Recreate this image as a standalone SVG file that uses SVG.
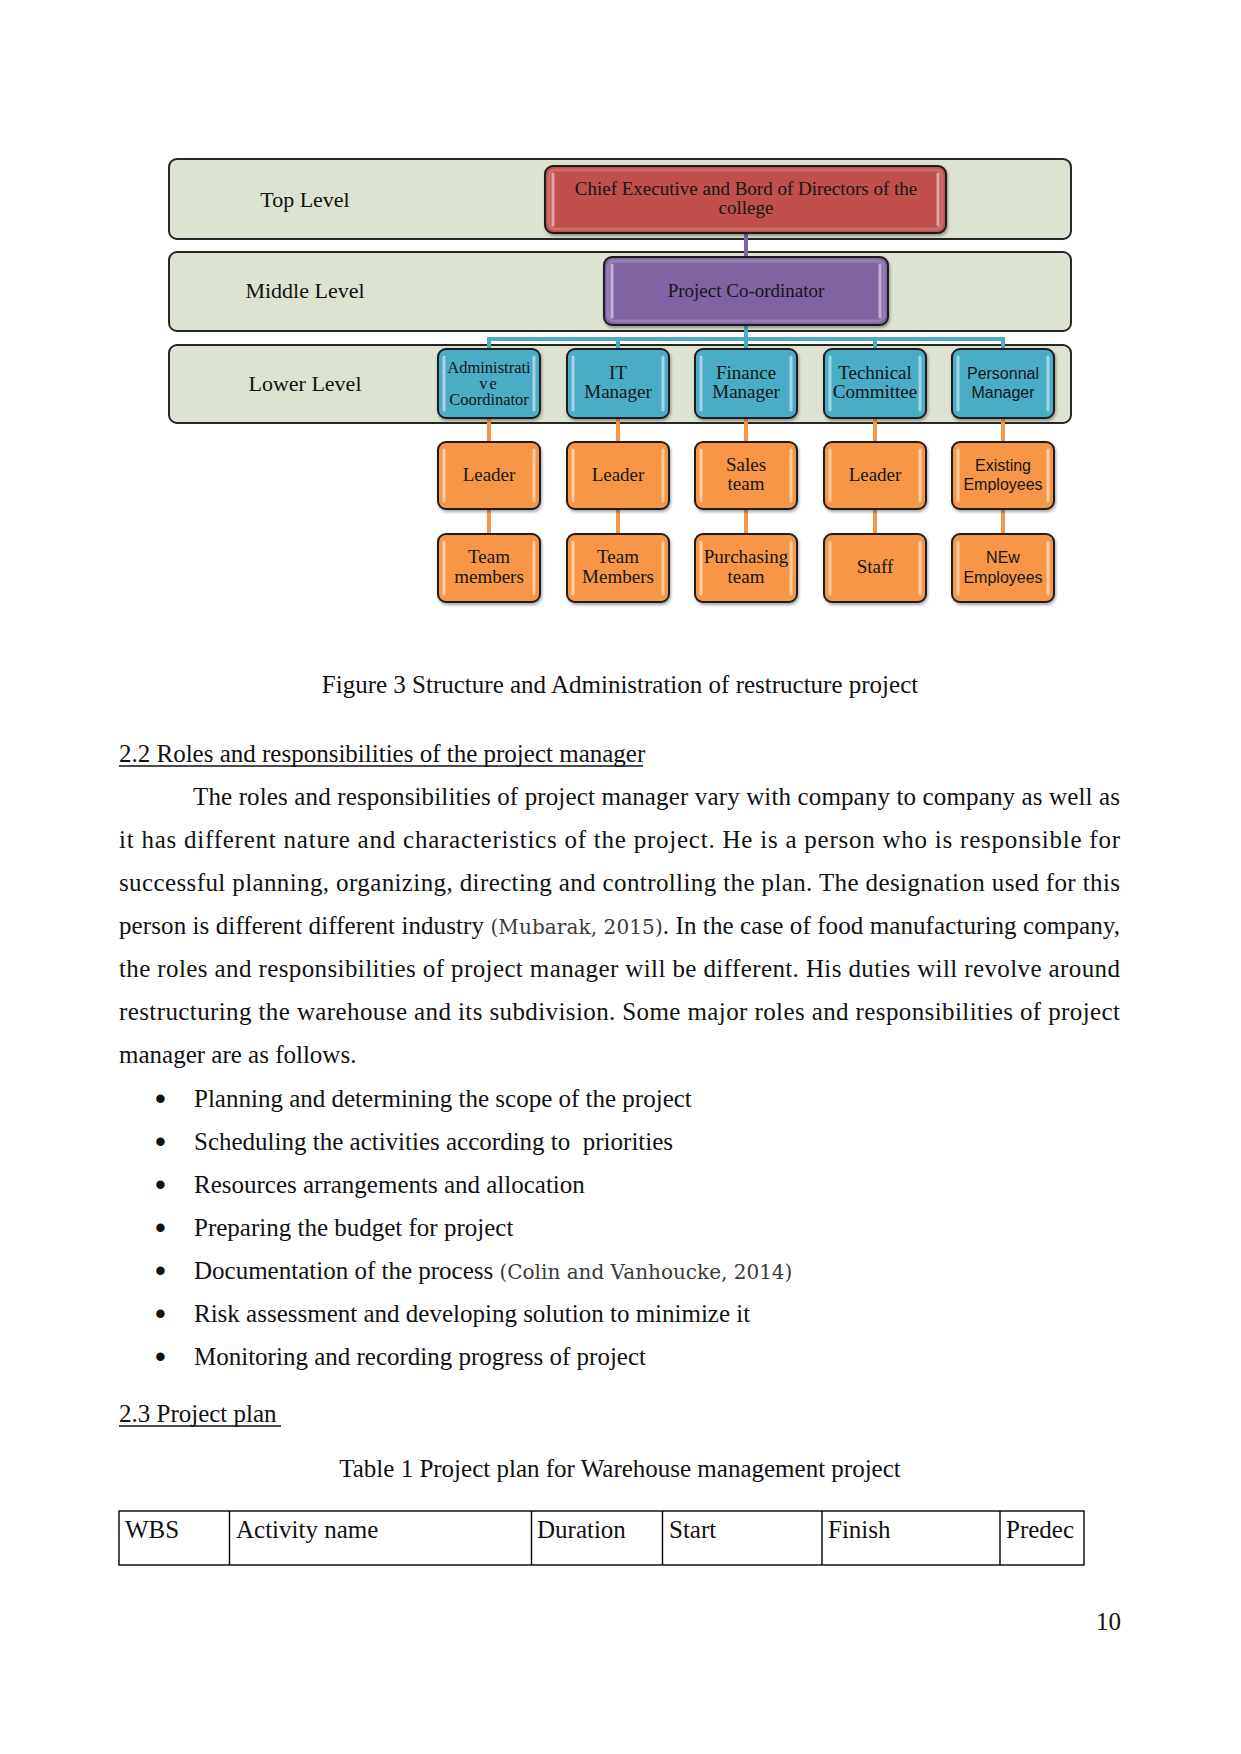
<svg xmlns="http://www.w3.org/2000/svg" width="1241" height="1754" viewBox="0 0 1241 1754">
<defs>
<filter id="sh" x="-10%" y="-10%" width="130%" height="140%">
<feDropShadow dx="1" dy="2" stdDeviation="1.5" flood-color="#000" flood-opacity="0.35"/>
</filter>
<style>
.band{fill:#dde3d1;stroke:#262626;stroke-width:2}
.box{stroke:#1e1e1e;stroke-width:2;filter:url(#sh)}
.red{fill:#c0504d}.purple{fill:#8064a2}.blue{fill:#4bacc6}.orange{fill:#f79646}
.inner{fill:none;stroke:#fff;stroke-opacity:0.18;stroke-width:3}
.hl{stroke:#fff;stroke-opacity:0.5;stroke-width:3;stroke-linecap:round}
.lvl{font-family:"Liberation Serif",serif;font-size:22px;fill:#111;text-anchor:middle}
.st{font-family:"Liberation Serif",serif;font-size:19px;fill:#161616;text-anchor:middle}
.ss{font-family:"Liberation Sans",sans-serif;font-size:16px;fill:#161616;text-anchor:middle}
.sa{font-family:"Liberation Serif",serif;font-size:16.5px;fill:#161616;text-anchor:middle}
.body{font-family:"Liberation Serif",serif;font-size:25px;fill:#111}
.cite{font-family:"DejaVu Serif",serif;font-size:20px;fill:#3a3a3a}
.c{text-anchor:middle}
.conn{fill:none;stroke-width:4}
.tb{fill:none;stroke:#000;stroke-width:1.4}
.bul{font-family:"Liberation Sans",sans-serif;font-size:31px;fill:#111}
</style>
</defs>
<rect width="1241" height="1754" fill="#fff"/>

<g id="bands">
<rect class="band" x="169" y="159" width="902" height="80" rx="8"/>
<rect class="band" x="169" y="252" width="902" height="79" rx="8"/>
<rect class="band" x="169" y="345" width="902" height="78" rx="8"/>
<text class="lvl" x="305" y="207">Top Level</text>
<text class="lvl" x="305" y="298">Middle Level</text>
<text class="lvl" x="305" y="391">Lower Level</text>
</g>

<g id="connectors">
<line class="conn" x1="746" y1="233" x2="746" y2="257" stroke="#8064a2"/>
<path class="conn" stroke="#4bacc6" d="M746 325V339M489 349V339H1003V349M618 339V349M746 339V349M875 339V349"/>
<path class="conn" stroke="#f79646" d="M489 418V442M489 509V534M618 418V442M618 509V534M746 418V442M746 509V534M875 418V442M875 509V534M1003 418V442M1003 509V534"/>
</g>

<g id="chief">
<rect class="box red" x="545" y="166" width="401" height="67" rx="8"/>
<rect class="inner" x="549" y="170" width="393" height="59" rx="6"/>
<line class="hl" x1="553" y1="174" x2="553" y2="225"/><line class="hl" x1="938" y1="174" x2="938" y2="225"/>
<text class="st" x="746" y="195">Chief Executive  and Bord of Directors of the</text>
<text class="st" x="746" y="214">college</text>
</g>

<g id="coordinator">
<rect class="box purple" x="604" y="257" width="284" height="68" rx="8"/>
<rect class="inner" x="608" y="261" width="276" height="60" rx="6"/>
<line class="hl" x1="612" y1="265" x2="612" y2="317"/><line class="hl" x1="880" y1="265" x2="880" y2="317"/>
<text class="st" x="746" y="297">Project Co-ordinator</text>
</g>

<g id="admin">
<rect class="box blue" x="438" y="349" width="102" height="69" rx="8"/>
<line class="hl" x1="444" y1="357" x2="444" y2="410"/><line class="hl" x1="534" y1="357" x2="534" y2="410"/>
<text class="sa" x="489" y="373">Administrati</text>
<text class="sa" x="489" y="389" letter-spacing="2">ve</text>
<text class="sa" x="489" y="405">Coordinator</text>
</g>
<g id="it">
<rect class="box blue" x="567" y="349" width="102" height="69" rx="8"/>
<line class="hl" x1="573" y1="357" x2="573" y2="410"/><line class="hl" x1="663" y1="357" x2="663" y2="410"/>
<text class="st" x="618" y="379">IT</text>
<text class="st" x="618" y="398">Manager</text>
</g>
<g id="finance">
<rect class="box blue" x="695" y="349" width="102" height="69" rx="8"/>
<line class="hl" x1="701" y1="357" x2="701" y2="410"/><line class="hl" x1="791" y1="357" x2="791" y2="410"/>
<text class="st" x="746" y="379">Finance</text>
<text class="st" x="746" y="398">Manager</text>
</g>
<g id="technical">
<rect class="box blue" x="824" y="349" width="102" height="69" rx="8"/>
<line class="hl" x1="830" y1="357" x2="830" y2="410"/><line class="hl" x1="920" y1="357" x2="920" y2="410"/>
<text class="st" x="875" y="379">Technical</text>
<text class="st" x="875" y="398">Committee</text>
</g>
<g id="personnal">
<rect class="box blue" x="952" y="349" width="102" height="69" rx="8"/>
<line class="hl" x1="958" y1="357" x2="958" y2="410"/><line class="hl" x1="1048" y1="357" x2="1048" y2="410"/>
<text class="ss" x="1003" y="379">Personnal</text>
<text class="ss" x="1003" y="398">Manager</text>
</g>

<g id="leader1">
<rect class="box orange" x="438" y="442" width="102" height="67" rx="8"/>
<line class="hl" x1="444" y1="450" x2="444" y2="501"/><line class="hl" x1="534" y1="450" x2="534" y2="501"/>
<text class="st" x="489" y="481">Leader</text>
</g>
<g id="leader2">
<rect class="box orange" x="567" y="442" width="102" height="67" rx="8"/>
<line class="hl" x1="573" y1="450" x2="573" y2="501"/><line class="hl" x1="663" y1="450" x2="663" y2="501"/>
<text class="st" x="618" y="481">Leader</text>
</g>
<g id="sales">
<rect class="box orange" x="695" y="442" width="102" height="67" rx="8"/>
<line class="hl" x1="701" y1="450" x2="701" y2="501"/><line class="hl" x1="791" y1="450" x2="791" y2="501"/>
<text class="st" x="746" y="471">Sales</text>
<text class="st" x="746" y="490">team</text>
</g>
<g id="leader3">
<rect class="box orange" x="824" y="442" width="102" height="67" rx="8"/>
<line class="hl" x1="830" y1="450" x2="830" y2="501"/><line class="hl" x1="920" y1="450" x2="920" y2="501"/>
<text class="st" x="875" y="481">Leader</text>
</g>
<g id="existing">
<rect class="box orange" x="952" y="442" width="102" height="67" rx="8"/>
<line class="hl" x1="958" y1="450" x2="958" y2="501"/><line class="hl" x1="1048" y1="450" x2="1048" y2="501"/>
<text class="ss" x="1003" y="471">Existing</text>
<text class="ss" x="1003" y="490">Employees</text>
</g>

<g id="teammembers1">
<rect class="box orange" x="438" y="534" width="102" height="68" rx="8"/>
<line class="hl" x1="444" y1="542" x2="444" y2="594"/><line class="hl" x1="534" y1="542" x2="534" y2="594"/>
<text class="st" x="489" y="563">Team</text>
<text class="st" x="489" y="583">members</text>
</g>
<g id="teammembers2">
<rect class="box orange" x="567" y="534" width="102" height="68" rx="8"/>
<line class="hl" x1="573" y1="542" x2="573" y2="594"/><line class="hl" x1="663" y1="542" x2="663" y2="594"/>
<text class="st" x="618" y="563">Team</text>
<text class="st" x="618" y="583">Members</text>
</g>
<g id="purchasing">
<rect class="box orange" x="695" y="534" width="102" height="68" rx="8"/>
<line class="hl" x1="701" y1="542" x2="701" y2="594"/><line class="hl" x1="791" y1="542" x2="791" y2="594"/>
<text class="st" x="746" y="563">Purchasing</text>
<text class="st" x="746" y="583">team</text>
</g>
<g id="staff">
<rect class="box orange" x="824" y="534" width="102" height="68" rx="8"/>
<line class="hl" x1="830" y1="542" x2="830" y2="594"/><line class="hl" x1="920" y1="542" x2="920" y2="594"/>
<text class="st" x="875" y="573">Staff</text>
</g>
<g id="newemployees">
<rect class="box orange" x="952" y="534" width="102" height="68" rx="8"/>
<line class="hl" x1="958" y1="542" x2="958" y2="594"/><line class="hl" x1="1048" y1="542" x2="1048" y2="594"/>
<text class="ss" x="1003" y="563">NEw</text>
<text class="ss" x="1003" y="583">Employees</text>
</g>

<g id="page-text">
<text class="body c" x="620" y="693">Figure 3 Structure and Administration of restructure project</text>
<text class="body" x="119" y="762">2.2 Roles and responsibilities of the project manager</text>
<line x1="119" y1="766" x2="643" y2="766" stroke="#111" stroke-width="1.3"/>
<text class="body" x="193" y="805" textLength="927" lengthAdjust="spacing">The roles and responsibilities of project manager vary with company to company as well as</text>
<text class="body" x="119" y="848" textLength="1001" lengthAdjust="spacing">it has different nature and characteristics of the project. He is a person who is responsible for</text>
<text class="body" x="119" y="891" textLength="1001" lengthAdjust="spacing">successful planning, organizing, directing and controlling the plan. The designation used for this</text>
<text class="body" x="119" y="934" textLength="1001" lengthAdjust="spacing">person is different different industry <tspan class="cite">(Mubarak, 2015)</tspan>. In the case of food manufacturing company,</text>
<text class="body" x="119" y="977" textLength="1001" lengthAdjust="spacing">the roles and responsibilities of project manager will be different. His duties will revolve around</text>
<text class="body" x="119" y="1020" textLength="1001" lengthAdjust="spacing">restructuring the warehouse and its subdivision. Some major roles and responsibilities of project</text>
<text class="body" x="119" y="1063">manager are as follows.</text>

<g class="bul">
<text x="155" y="1109">•</text><text x="155" y="1152">•</text><text x="155" y="1195">•</text><text x="155" y="1238">•</text><text x="155" y="1281">•</text><text x="155" y="1324">•</text><text x="155" y="1367">•</text>
</g>
<text class="body" x="194" y="1107">Planning and determining the scope of the project</text>
<text class="body" x="194" y="1150" xml:space="preserve">Scheduling the activities according to  priorities</text>
<text class="body" x="194" y="1193">Resources arrangements and allocation</text>
<text class="body" x="194" y="1236">Preparing the budget for project</text>
<text class="body" x="194" y="1279">Documentation of the process <tspan class="cite">(Colin and Vanhoucke, 2014)</tspan></text>
<text class="body" x="194" y="1322">Risk assessment and developing solution to minimize it</text>
<text class="body" x="194" y="1365">Monitoring and recording progress of project</text>

<text class="body" x="119" y="1422">2.3 Project plan</text>
<line x1="119" y1="1426" x2="281" y2="1426" stroke="#111" stroke-width="1.3"/>
<text class="body c" x="620" y="1477">Table 1 Project plan for Warehouse management project</text>
</g>

<g id="table">
<rect class="tb" x="119" y="1511" width="965" height="54"/>
<path class="tb" d="M229.5 1511V1565M531.5 1511V1565M662.5 1511V1565M822 1511V1565M1000 1511V1565"/>
<text class="body" x="125" y="1538">WBS</text>
<text class="body" x="236" y="1538">Activity name</text>
<text class="body" x="537" y="1538">Duration</text>
<text class="body" x="669" y="1538">Start</text>
<text class="body" x="828" y="1538">Finish</text>
<text class="body" x="1006" y="1538">Predec</text>
</g>

<text class="body" x="1121" y="1630" text-anchor="end">10</text>
</svg>
